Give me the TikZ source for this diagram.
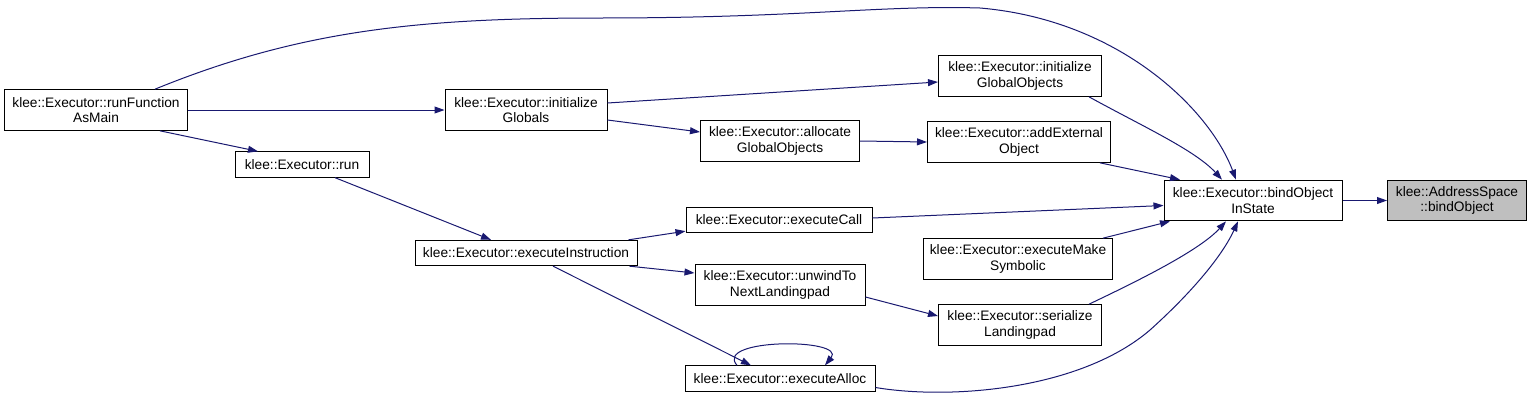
\documentclass[tikz,border=0pt]{standalone}
\usepackage{fontspec}
\setmainfont{Liberation Sans}
\usetikzlibrary{arrows.meta,calc}

\definecolor{edgeblue}{RGB}{25,25,112}

\begin{document}
\begin{tikzpicture}[
    x=0.75pt, y=-0.75pt,
    func/.style={rectangle, draw, fill=white, line width=0.75pt, font=\fontsize{10.3}{11.4}\selectfont, align=center, inner sep=0pt, minimum height=19pt},
    two/.style={minimum height=30.5pt},
    wd/.style={minimum width=#1*0.75pt},
    root/.style={fill=black!25},
    arr/.style={-{Triangle[length=7.5pt,width=5.2pt,fill=edgeblue]}, line width=0.75pt, draw=edgeblue}
]
\useasboundingbox (0,0) rectangle (1531,400);

\node[func, two, wd=183] (rfm) at (96, 110) {klee::Executor::runFunction\\AsMain};
\node[func, two, wd=162] (ig) at (526, 110) {klee::Executor::initialize\\Globals};
\node[func, wd=134] (run) at (302, 164.5) {klee::Executor::run};
\node[func, wd=222] (ei) at (526, 253) {klee::Executor::executeInstruction};
\node[func, two, wd=163] (igo) at (1020, 76) {klee::Executor::initialize\\GlobalObjects};
\node[func, two, wd=159] (ago) at (780, 141) {klee::Executor::allocate\\GlobalObjects};
\node[func, two, wd=183] (aeo) at (1019, 142) {klee::Executor::addExternal\\Object};
\node[func, wd=186] (ec) at (779, 220) {klee::Executor::executeCall};
\node[func, two, wd=178] (bois) at (1253, 200.5) {klee::Executor::bindObject\\InState};
\node[func, two, root, wd=139] (bo) at (1457, 200.5) {klee::AddressSpace\\::bindObject};
\node[func, two, wd=189] (ems) at (1018, 259) {klee::Executor::executeMake\\Symbolic};
\node[func, two, wd=170] (utnl) at (780, 285) {klee::Executor::unwindTo\\NextLandingpad};
\node[func, two, wd=163] (sl) at (1020, 325) {klee::Executor::serialize\\Landingpad};
\node[func, wd=190] (ea) at (780, 378.5) {klee::Executor::executeAlloc};

% callers of runFunctionAsMain
\draw[arr] ($(rfm.south)+(64,0)$) -- ($(run.north)+(-44,0)$);
\draw[arr] (rfm.east) -- (ig.west);
\draw[arr] ($(rfm.north)+(59,0)$) .. controls (300,30) and (420,18) .. (600,18)
    .. controls (800,18) and (880,5) .. (980,8)
    .. controls (1120,20) and (1210,110) .. ($(bois.north)+(-17,0)$);

% globals
\draw[arr] ($(ig.east)+(0,-7)$) -- ($(igo.west)+(0,6)$);
\draw[arr] ($(ig.east)+(0,10)$) -- ($(ago.west)+(0,-9)$);
\draw[arr] (ago.east) -- (aeo.west);
\draw[arr] ($(igo.south)+(69,0)$) .. controls (1140,125) and (1195,150) .. ($(bois.north)+(-31,0)$);
\draw[arr] ($(aeo.south)+(81,0)$) -- ($(bois.north)+(-73,0)$);

% instruction path
\draw[arr] ($(run.south)+(33,0)$) -- ($(ei.north)+(-35,0)$);
\draw[arr] ($(ei.north east)+(-9,0)$) -- ($(ec.south west)+(0,-2)$);
\draw[arr] ($(ei.south east)+(-8,0)$) -- ($(utnl.west)+(0,-12)$);
\draw[arr] ($(ei.south)+(27,0)$) -- ($(ea.north)+(-29,0)$);
\draw[arr] ($(ea.north)+(-43,0)$) .. controls (713,338) and (847,338) .. ($(ea.north)+(45,0)$);
\draw[arr] ($(utnl.east)+(0,12)$) -- ($(sl.west)+(0,-9)$);

% into bindObjectInState
\draw[arr] ($(ec.east)+(0,-2)$) -- ($(bois.west)+(0,5)$);
\draw[arr] ($(ems.north)+(85,0)$) -- ($(bois.south)+(-83,0)$);
\draw[arr] ($(sl.north)+(69,0)$) .. controls (1140,280) and (1200,250) .. ($(bois.south)+(-27,0)$);
\draw[arr] ($(ea.east)+(0,9)$) .. controls (950,400) and (1080,390) .. (1150,330)
    .. controls (1200,285) and (1225,250) .. ($(bois.south)+(-15,0)$);
\draw[arr] (bois.east) -- (bo.west);
\end{tikzpicture}
\end{document}
